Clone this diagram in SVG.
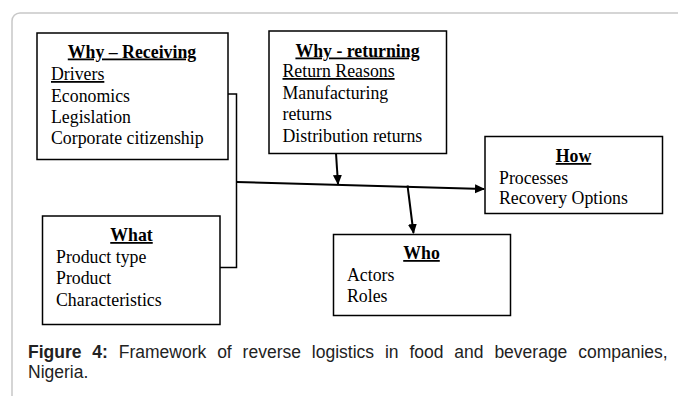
<svg xmlns="http://www.w3.org/2000/svg" width="678" height="396" viewBox="0 0 678 396">
<style>
.box{fill:#fff;stroke:#000;stroke-width:1.5}
.t{font-family:"Liberation Serif","Times New Roman",serif;font-size:17.8px;fill:#000}
.h{font-weight:bold;text-decoration:underline;text-anchor:middle}
.u{text-decoration:underline}
.c{stroke:#000;stroke-width:2;fill:none}
.cap{font-family:"Liberation Sans",Arial,sans-serif;font-size:17.5px;fill:#222}
</style>
<defs>
<marker id="ah" markerWidth="10" markerHeight="10" refX="9" refY="5" orient="auto" markerUnits="userSpaceOnUse">
<path d="M0,0.5 L10,5 L0,9.5 Z" fill="#000"/>
</marker>
</defs>
<rect x="0" y="0" width="678" height="396" fill="#fff"/>
<rect x="12" y="13" width="690" height="420" rx="8" fill="none" stroke="#c8c8c8" stroke-width="1.5"/>
<g id="connectors">
<polyline class="c" points="228,94 236.5,94 236.5,267.5 220,267.5" style="stroke-width:1.5"/>
<line class="c" x1="236.5" y1="182" x2="484" y2="189" marker-end="url(#ah)"/>
<line class="c" x1="336" y1="153" x2="338" y2="184" marker-end="url(#ah)"/>
<line class="c" x1="407.5" y1="185.5" x2="413.5" y2="233" marker-end="url(#ah)"/>
</g>
<g id="why-receiving">
<rect class="box" x="37" y="33" width="191" height="126.5"/>
<text class="t h" x="132" y="57.5">Why – Receiving</text>
<text class="t u" x="51" y="80">Drivers</text>
<text class="t" x="51" y="101.5">Economics</text>
<text class="t" x="51" y="123">Legislation</text>
<text class="t" x="51" y="144">Corporate citizenship</text>
</g>
<g id="why-returning">
<rect class="box" x="269" y="31" width="177.5" height="122.5"/>
<text class="t h" x="357.5" y="56.5">Why - returning</text>
<text class="t u" x="282.5" y="77">Return Reasons</text>
<text class="t" x="282.5" y="98.5">Manufacturing</text>
<text class="t" x="282.5" y="120">returns</text>
<text class="t" x="282.5" y="141.5">Distribution returns</text>
</g>
<g id="how">
<rect class="box" x="485" y="136.5" width="177.5" height="77"/>
<text class="t h" x="573.5" y="162">How</text>
<text class="t" x="499" y="183.5">Processes</text>
<text class="t" x="499" y="204">Recovery Options</text>
</g>
<g id="what">
<rect class="box" x="42.5" y="216" width="177.5" height="108.5"/>
<text class="t h" x="131.5" y="241">What</text>
<text class="t" x="56" y="262.5">Product type</text>
<text class="t" x="56" y="284">Product</text>
<text class="t" x="56" y="305.5">Characteristics</text>
</g>
<g id="who">
<rect class="box" x="333.5" y="234.5" width="177" height="81"/>
<text class="t h" x="421.5" y="259">Who</text>
<text class="t" x="347" y="280.5">Actors</text>
<text class="t" x="347" y="302">Roles</text>
</g>
<text class="cap" x="28" y="358" word-spacing="6"><tspan font-weight="bold">Figure 4:</tspan> Framework of reverse logistics in food and beverage companies,</text>
<text class="cap" x="28" y="378">Nigeria.</text>
</svg>
